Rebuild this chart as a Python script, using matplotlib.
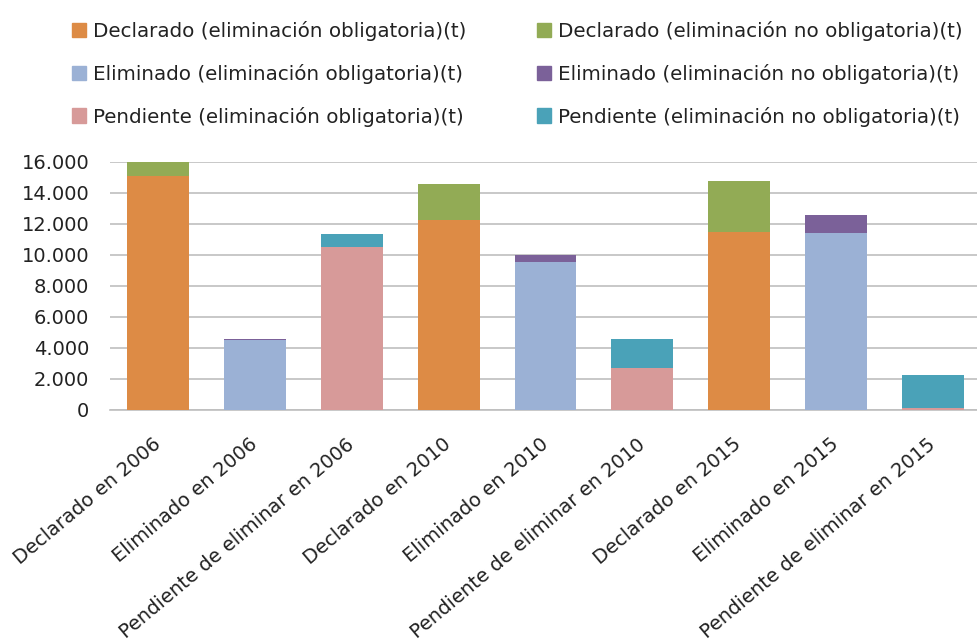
import matplotlib
matplotlib.use("Agg")
import matplotlib.pyplot as plt
import numpy as np
from matplotlib.patches import Patch

categories = ["Declarado en 2006", "Eliminado en 2006", "Pendiente de eliminar en 2006",
              "Declarado en 2010", "Eliminado en 2010", "Pendiente de eliminar en 2010",
              "Declarado en 2015", "Eliminado en 2015", "Pendiente de eliminar en 2015"]

decl_oblig = [15100, 0, 0, 12250, 0, 0, 11450, 0, 0]
decl_no = [900, 0, 0, 2300, 0, 0, 3350, 0, 0]
elim_oblig = [0, 4500, 0, 0, 9570, 0, 0, 11400, 0]
elim_no = [0, 100, 0, 0, 430, 0, 0, 1180, 0]
pend_oblig = [0, 0, 10500, 0, 0, 2690, 0, 0, 150]
pend_no = [0, 0, 870, 0, 0, 1890, 0, 0, 2090]

series_names = ["Declarado (eliminación obligatoria)(t)",
                "Declarado (eliminación no obligatoria)(t)",
                "Eliminado (eliminación obligatoria)(t)",
                "Eliminado (eliminación no obligatoria)(t)",
                "Pendiente (eliminación obligatoria)(t)",
                "Pendiente (eliminación no obligatoria)(t)"]
series_vals = [decl_oblig, decl_no, elim_oblig, elim_no, pend_oblig, pend_no]
colors = ["#DD8B45", "#92AB55", "#9BB1D5", "#7B6199", "#D79A99", "#4AA2B8"]

yticks = [0, 2000, 4000, 6000, 8000, 10000, 12000, 14000, 16000]
ytick_labels = ["0", "2.000", "4.000", "6.000", "8.000", "10.000", "12.000", "14.000", "16.000"]

plt.rcParams['font.family'] = ['DejaVu Sans']
fig = plt.figure(figsize=(9.78, 6.43), dpi=100)
ax = fig.add_axes([0.1125, 0.3624, 0.8906, 0.3857])

x = np.arange(len(categories))
bottom = np.zeros(len(categories))
for name, vals, c in zip(series_names, series_vals, colors):
    v = np.array(vals, dtype=float)
    ax.bar(x, v, bottom=bottom, width=0.64, color=c, zorder=3)
    bottom += v

ax.set_xlim(-0.5, len(categories) - 0.5)
ax.set_ylim(0, 16000)
ax.set_yticks(yticks)
ax.set_yticklabels(ytick_labels, fontsize=14, color="#222222")
ax.set_xticks(x)
ax.set_xticklabels(categories, rotation=40, ha="right", va="center",
                   rotation_mode="anchor", fontsize=14, color="#222222")
ax.tick_params(axis="both", length=0)
ax.tick_params(axis="y", pad=15)
ax.tick_params(axis="x", pad=23)
ax.grid(axis="y", color="#bfbfbf", linewidth=1.2, zorder=0)
for s in ["left", "right", "top"]:
    ax.spines[s].set_visible(False)
ax.spines["bottom"].set_color("#bfbfbf")
ax.spines["bottom"].set_linewidth(1.2)

order = [0, 2, 4, 1, 3, 5]
handles = [Patch(color=colors[i], label=series_names[i]) for i in order]
fig.legend(handles=handles, loc="upper left", bbox_to_anchor=(0.0736, 0.967), ncol=2,
           frameon=False, fontsize=14.3, handlelength=0.72, handleheight=0.72,
           handletextpad=0.35, columnspacing=3.55, labelspacing=1.14,
           borderpad=0, borderaxespad=0, labelcolor="#222222")

fig.savefig("out.png", dpi=100)
